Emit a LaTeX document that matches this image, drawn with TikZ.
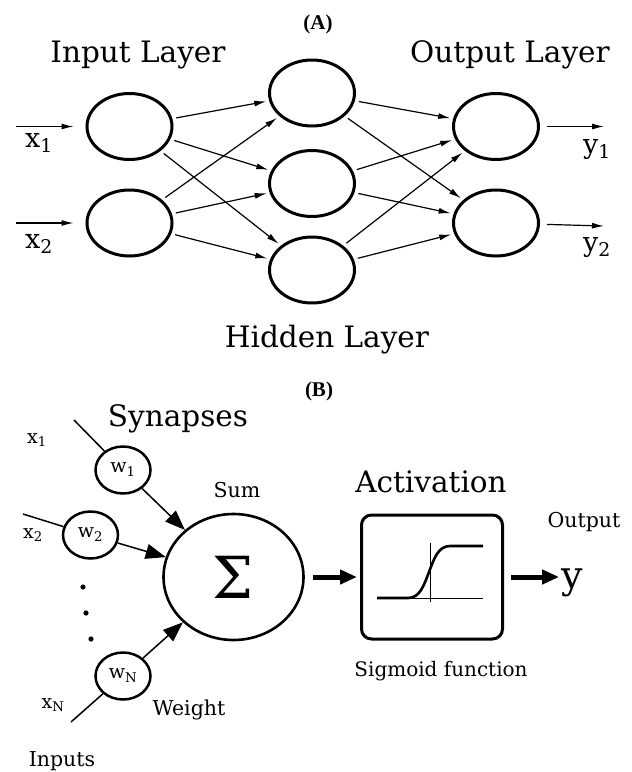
\documentclass[tikz,border=0pt]{standalone}
\usepackage{fontspec}
\setmainfont{DejaVu Serif}
\newfontfamily\tagfont{Liberation Serif}
\usetikzlibrary{shapes.geometric, arrows.meta}

\newcommand{\titlesize}{\fontsize{29.5}{34}\selectfont}
\newcommand{\labelsize}{\fontsize{20.5}{24}\selectfont}

\begin{document}
\begin{tikzpicture}[x=1pt, y=-1pt,
  every node/.style={inner sep=0pt},
  title/.style={font=\titlesize, anchor=base},
  caption/.style={font=\labelsize, anchor=base},
  tagtext/.style={font=\tagfont\bfseries\fontsize{21}{24}\selectfont, anchor=base},
  neuron/.style={ellipse, draw, line width=3pt, minimum width=85pt, minimum height=66pt},
  weight/.style={ellipse, draw, line width=2.5pt, minimum width=55pt, minimum height=47pt,
                 font=\fontsize{19}{22}\selectfont},
  link/.style={line width=1.2pt, -{Latex[length=12pt,width=6pt]}, shorten <=4pt, shorten >=3pt},
  wire/.style={line width=1.5pt},
  syn/.style={line width=1.5pt, -{Triangle[length=20pt,width=15pt]}},
  fat/.style={line width=5pt, -{Triangle[length=17pt,width=14pt]}}
]
  \useasboundingbox (0,0) rectangle (632,772);

  % Panel A
  \node[tagtext] (tagA) at (318,29) {(A)};
  \node[title] (inlab) at (138,62) {Input Layer};
  \node[title] (outlab) at (510,62) {Output Layer};
  \node[title] (hidlab) at (327,347) {Hidden Layer};

  \foreach \n/\y in {1/126.5, 2/223}{
    \node[neuron] (in\n) at (129.5,\y) {};
    \node[neuron] (out\n) at (496,\y) {};
  }
  \foreach \n/\y in {1/93, 2/183.5, 3/270}
    \node[neuron] (hid\n) at (312,\y) {};

  \foreach \i in {1,2}
    \foreach \j in {1,2,3}
      \draw[link] (in\i) -- (hid\j);
  \foreach \j in {1,2,3}
    \foreach \k in {1,2}
      \draw[link] (hid\j) -- (out\k);

  % inputs and outputs
  \coordinate (xin1) at (16,126.5);
  \coordinate (xin2) at (16,223);
  \coordinate (yout1) at (604,126.5);
  \coordinate (yout2) at (604,226);
  \draw[link, shorten >=12pt, shorten <=0pt] (xin1) -- (in1);
  \draw[link, shorten >=12pt, shorten <=0pt] (xin2) -- (in2);
  \draw[link, shorten <=7pt, shorten >=0pt] (out1) -- (yout1);
  \draw[link, shorten <=7pt, shorten >=0pt] (out2) -- (yout2);
  \node[font=\fontsize{27}{30}\selectfont, anchor=base] (x1a) at (39,147) {x\textsubscript{1}};
  \node[font=\fontsize{27}{30}\selectfont, anchor=base] (x2a) at (39,248) {x\textsubscript{2}};
  \node[font=\fontsize{27}{30}\selectfont, anchor=base] (y1a) at (597,153) {y\textsubscript{1}};
  \node[font=\fontsize{27}{30}\selectfont, anchor=base] (y2a) at (597,251) {y\textsubscript{2}};

  % Panel B
  \node[tagtext] (tagB) at (319,396) {(B)};
  \node[title] (synlab) at (178,426) {Synapses};
  \node[title] (actlab) at (431,492) {Activation};
  \node[caption] (sumlab) at (237,497) {Sum};
  \node[caption] (wlab) at (189,715) {Weight};
  \node[caption] (inplab) at (62,766) {Inputs};
  \node[caption] (outplab) at (584,527) {Output};
  \node[caption, font=\fontsize{20}{24}\selectfont] (siglab) at (441,676) {Sigmoid function};

  \node[weight] (w1) at (123,470) {w\textsubscript{1}};
  \node[weight] (w2) at (90.5,535) {w\textsubscript{2}};
  \node[weight] (wN) at (123,676) {w\textsubscript{N}};
  \node[ellipse, draw, line width=2.6pt, minimum width=140pt, minimum height=126pt,
        font=\fontsize{58}{60}\selectfont] (sum) at (233.5,577) {Σ};

  \node[font=\fontsize{19}{22}\selectfont, anchor=base] (x1b) at (37,443) {x\textsubscript{1}};
  \node[font=\fontsize{19}{22}\selectfont, anchor=base] (x2b) at (33,538) {x\textsubscript{2}};
  \node[font=\fontsize{19}{22}\selectfont, anchor=base] (xNb) at (53,708) {x\textsubscript{N}};

  \coordinate (s1) at (74,420);
  \coordinate (s2) at (23,514);
  \coordinate (sN) at (71,722);
  \draw[wire] (s1) -- (w1);
  \draw[wire] (s2) -- (w2);
  \draw[wire] (sN) -- (wN);
  \foreach \w in {w1,w2,wN}
    \draw[syn] (\w) -- (sum);

  % dots
  \foreach \x/\y in {83/587, 86/613, 91/639}
    \fill (\x,\y) circle (2.6pt);

  % activation box
  \node[draw, line width=3pt, rounded corners=10pt, minimum width=141pt, minimum height=124pt]
    (act) at (432,577) {};
  \draw[line width=1pt] (377,598) -- (483,598);
  \draw[line width=1pt] (430,543) -- (430,602);
  \draw[line width=2.6pt] (377,598) -- (408,598)
    .. controls (420,598) and (424,585) .. (429,572)
    .. controls (434,559) and (438,546) .. (450,546) -- (483,546);

  \node[font=\fontsize{38}{40}\selectfont, anchor=base] (ylab) at (572,588) {y};
  \draw[fat, shorten <=8pt, shorten >=3pt] (sum) -- (act);
  \draw[fat, shorten <=7pt, shorten >=2pt] (act) -- (act.east -| ylab.west);
\end{tikzpicture}
\end{document}
